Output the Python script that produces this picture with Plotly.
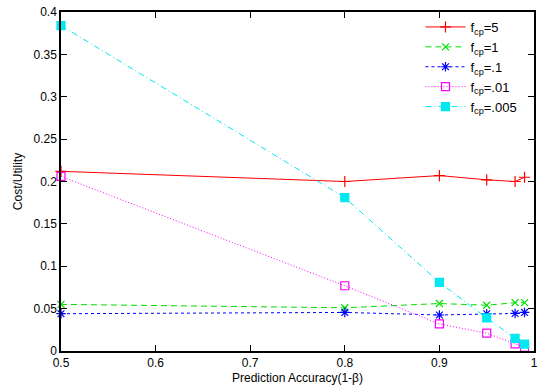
import plotly.graph_objects as go

accuracy = [0.5, 0.8, 0.9, 0.95, 0.98, 0.99]
fcp_5 = [0.212, 0.200, 0.207, 0.202, 0.200, 0.205]
fcp_1 = [0.055, 0.051, 0.056, 0.054, 0.057, 0.057]
fcp_01 = [0.044, 0.0455, 0.0425, 0.044, 0.0443, 0.0455]
fcp_001 = [0.206, 0.077, 0.032, 0.021, 0.0085, 0.0043]
fcp_0005 = [0.384, 0.181, 0.081, 0.039, 0.015, 0.008]

names = ["f<sub>cp</sub>=5", "f<sub>cp</sub>=1", "f<sub>cp</sub>=.1",
         "f<sub>cp</sub>=.01", "f<sub>cp</sub>=.005"]
series = [fcp_5, fcp_1, fcp_01, fcp_001, fcp_0005]
colors = ["#ff0000", "#00e000", "#0000ff", "#ff00ff", "#00e8f0"]
dashes = ["solid", "6px,4px", "3px,3px", "1px,2px", "6px,3px,1px,3px"]
symbols = ["cross-thin", "x-thin", "asterisk", "square-open", "square"]
sizes = [8, 7, 8, 8, 8]

fig = go.Figure()
for n, s, c, d, sym, sz in zip(names, series, colors, dashes, symbols, sizes):
    fig.add_trace(go.Scatter(
        x=accuracy, y=s, name=n, mode="lines+markers",
        line=dict(color=c, dash=d, width=1),
        marker=dict(symbol=sym, size=sz, color=c, line=dict(color=c, width=1.2)),
        cliponaxis=False,
    ))

axis_common = dict(
    showgrid=False, zeroline=False, showline=True, linecolor="black", linewidth=1.5,
    mirror="ticks", ticks="inside", ticklen=6, tickcolor="black", tickwidth=1,
    tickfont=dict(family="Liberation Sans, Arial", size=12, color="black"),
)

fig.update_layout(
    width=543, height=391,
    margin=dict(l=61, r=5, t=8, b=40),
    paper_bgcolor="white", plot_bgcolor="white",
    font=dict(family="Liberation Sans, Arial", size=12, color="black"),
    showlegend=True,
    legend=dict(x=0.76, y=1.0, xanchor="left", yanchor="top",
                bgcolor="rgba(0,0,0,0)", font=dict(size=13),
                tracegroupgap=0, itemwidth=40),
    xaxis=dict(range=[0.5, 1.0], tickvals=[0.5, 0.6, 0.7, 0.8, 0.9, 1.0],
               ticktext=["0.5", "0.6", "0.7", "0.8", "0.9", "1"],
               title=dict(text="Prediction Accuracy(1-β)", standoff=4,
                          font=dict(size=12)),
               **axis_common),
    yaxis=dict(range=[0, 0.4], tickvals=[0, 0.05, 0.1, 0.15, 0.2, 0.25, 0.3, 0.35, 0.4],
               ticktext=["0", "0.05", "0.1", "0.15", "0.2", "0.25", "0.3", "0.35", "0.4"],
               title=dict(text="Cost/Utility", standoff=8, font=dict(size=12)),
               **axis_common),
)

fig.write_html("out.html")
